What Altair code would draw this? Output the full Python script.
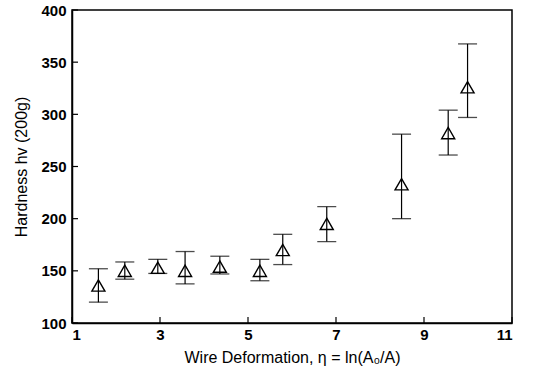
import altair as alt
import pandas as pd

# data
eta = [1.6, 2.2, 2.95, 3.57, 4.36, 5.27, 5.79, 6.79, 8.49, 9.55, 9.99]
hv = [136, 150, 153, 150, 154, 150, 170, 195, 233, 282, 326]
hv_low = [120, 142, 147.5, 137.5, 147, 140.5, 156, 178, 200, 261, 297]
hv_high = [152, 158.5, 161, 168.5, 164, 161, 185, 211.5, 281, 304, 367.5]

x_ticks = [1, 3, 5, 7, 9, 11]
y_ticks = [100, 150, 200, 250, 300, 350, 400]

W, H = 440, 313

df = pd.DataFrame({"eta": eta, "hv": hv, "lo": hv_low, "hi": hv_high})
xt = pd.DataFrame({"v": x_ticks})
yt = pd.DataFrame({"v": y_ticks})

xs = alt.Scale(domain=[1, 11], nice=False, zero=False)
ys = alt.Scale(domain=[100, 400], nice=False, zero=False)

xax = alt.Axis(values=x_ticks, title="Wire Deformation, η = ln(A₀/A)", ticks=False,
               grid=False, labelPadding=4, titlePadding=7, format="d")
yax = alt.Axis(values=y_ticks, title="Hardness hv (200g)", ticks=False,
               grid=False, labelPadding=6, titlePadding=11, format="d")

base = alt.Chart(df)

rules = base.mark_rule(color="black", strokeWidth=1.2).encode(
    x=alt.X("eta:Q", scale=xs, axis=xax),
    y=alt.Y("lo:Q", scale=ys, axis=yax),
    y2="hi:Q",
)
cap_lo = base.mark_tick(color="black", orient="horizontal", size=19, thickness=1.3).encode(
    x=alt.X("eta:Q", scale=xs), y=alt.Y("lo:Q", scale=ys)
)
cap_hi = base.mark_tick(color="black", orient="horizontal", size=19, thickness=1.3).encode(
    x=alt.X("eta:Q", scale=xs), y=alt.Y("hi:Q", scale=ys)
)
pts = base.mark_point(shape="triangle-up", filled=False, color="black", size=170,
                      strokeWidth=1.4, opacity=1).encode(
    x=alt.X("eta:Q", scale=xs), y=alt.Y("hv:Q", scale=ys)
)

xtick_marks = alt.Chart(xt).mark_rule(color="black", strokeWidth=1.2).encode(
    x=alt.X("v:Q", scale=xs), y=alt.value(H), y2=alt.value(H - 6)
)
ytick_marks = alt.Chart(yt).mark_rule(color="black", strokeWidth=1.2).encode(
    y=alt.Y("v:Q", scale=ys), x=alt.value(0), x2=alt.value(6)
)

chart = alt.layer(rules, cap_lo, cap_hi, pts, xtick_marks, ytick_marks).properties(
    width=W, height=H,
    autosize=alt.AutoSizeParams(type="none"),
    padding={"left": 72, "top": 10, "right": 36, "bottom": 57},
).configure_view(
    stroke="black", strokeWidth=1.5
).configure_axis(
    domainColor="black", domainWidth=1.5,
    labelFont="Liberation Sans", labelFontWeight="bold", labelFontSize=15, labelColor="black",
    titleFont="Liberation Sans", titleFontWeight="normal", titleFontSize=16, titleColor="black",
)

chart.save("out.html", embed_options={"renderer": "svg", "actions": False})
